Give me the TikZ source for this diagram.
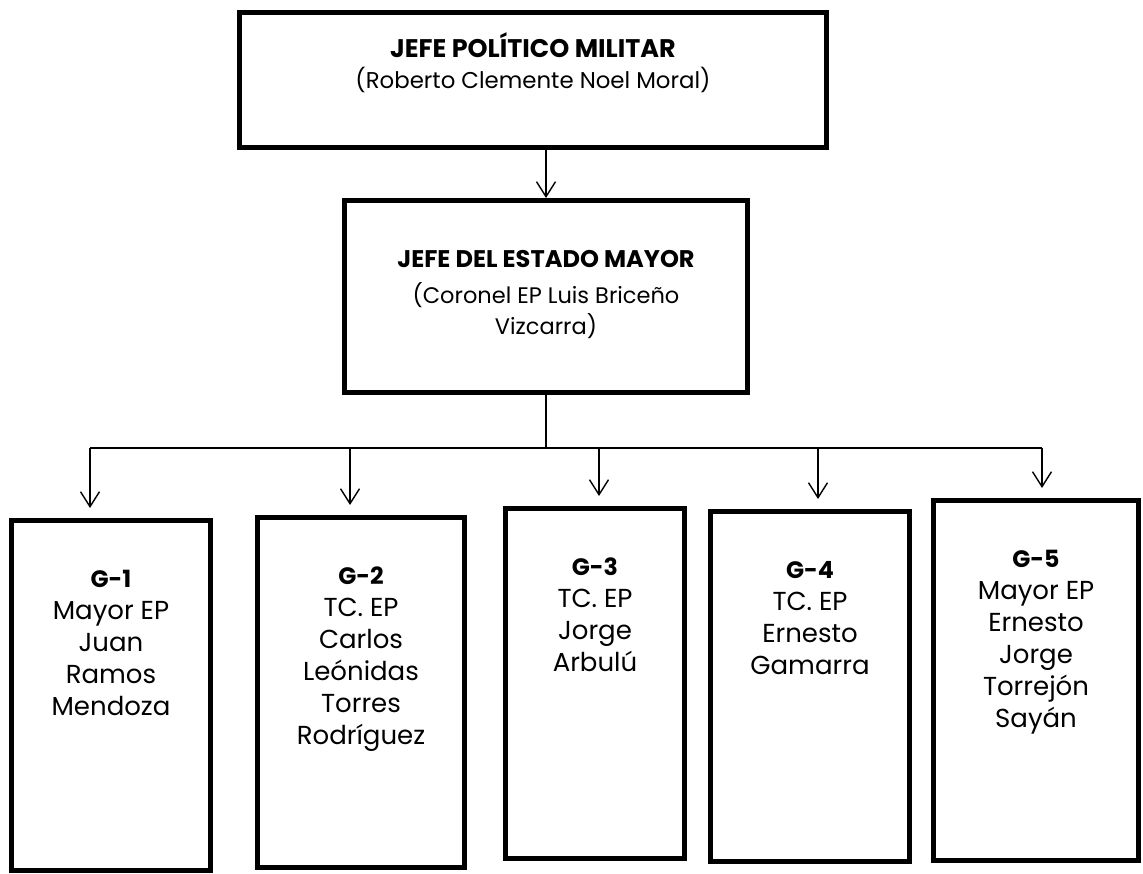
\documentclass[tikz,border=0pt]{standalone}
\usepackage{fontspec}
\setmainfont{Poppins}
\usetikzlibrary{arrows.meta}

\newcommand{\celda}[1]{\begin{tabular}[t]{@{}c@{}}#1\end{tabular}}
\newcommand{\titulo}[2]{{\fontsize{#1}{18}\selectfont\bfseries #2}}

\begin{document}
\begin{tikzpicture}[x=0.02cm, y=-0.02cm,
    caja/.style={draw, line width=1mm, anchor=north, inner xsep=2mm, inner ysep=0pt,
      font=\fontsize{13}{17.5}\selectfont},
    grupo/.style={caja, text height=1.35cm, text depth=5.65cm, font=\fontsize{14.8}{18.2}\selectfont},
    linea/.style={line width=0.8pt},
    flecha/.style={linea, -{Straight Barb[length=3mm, width=3.8mm]}}]
  \useasboundingbox (0,0) rectangle (1143,874);
  \node[caja, minimum width=11.74cm, text height=0.9cm, text depth=1.8cm] (jefe) at (533,10)
    {\celda{\titulo{14.5}{JEFE POLÍTICO MILITAR}\\(Roberto Clemente Noel Moral)}};
  \node[caja, minimum width=8.06cm, text height=1.34cm, text depth=2.5cm,
    font=\fontsize{12.8}{17.5}\selectfont] (estado) at (546,198)
    {\celda{\titulo{13.7}{JEFE DEL ESTADO MAYOR}\\[3pt](Coronel EP Luis Briceño\\Vizcarra)}};
  \node[grupo, minimum width=4.0cm] (g1) at (111,518) {\celda{\titulo{13.5}{G-1}\\Mayor EP\\Juan\\Ramos\\Mendoza}};
  \node[grupo, minimum width=4.16cm] (g2) at (361,515) {\celda{\titulo{13.5}{G-2}\\TC. EP\\Carlos\\Leónidas\\Torres\\Rodríguez}};
  \node[grupo, minimum width=3.6cm] (g3) at (595,506) {\celda{\titulo{13.5}{G-3}\\TC. EP\\Jorge\\Arbulú}};
  \node[grupo, minimum width=4.0cm] (g4) at (810,509) {\celda{\titulo{13.5}{G-4}\\TC. EP\\Ernesto\\Gamarra}};
  \node[grupo, minimum width=4.12cm, text depth=5.85cm] (g5) at (1036,498) {\celda{\titulo{13.5}{G-5}\\Mayor EP\\Ernesto\\Jorge\\Torrejón\\Sayán}};
  % puntos de la barra horizontal
  \coordinate (b1) at (90,448);
  \coordinate (b2) at (350,448);
  \coordinate (b3) at (599,448);
  \coordinate (b4) at (818,448);
  \coordinate (b5) at (1042,448);
  \draw[flecha] (estado.north |- jefe.south) -- (estado.north);
  \draw[linea] (estado.south) -- (estado.south |- b1);
  \draw[linea] (b1) -- (b5);
  \draw[flecha, shorten >=2mm] (b1) -- (b1 |- g1.north);
  \draw[flecha, shorten >=2mm] (b2) -- (b2 |- g2.north);
  \draw[flecha, shorten >=2mm] (b3) -- (b3 |- g3.north);
  \draw[flecha, shorten >=2mm] (b4) -- (b4 |- g4.north);
  \draw[flecha, shorten >=2mm] (b5) -- (b5 |- g5.north);
\end{tikzpicture}
\end{document}
